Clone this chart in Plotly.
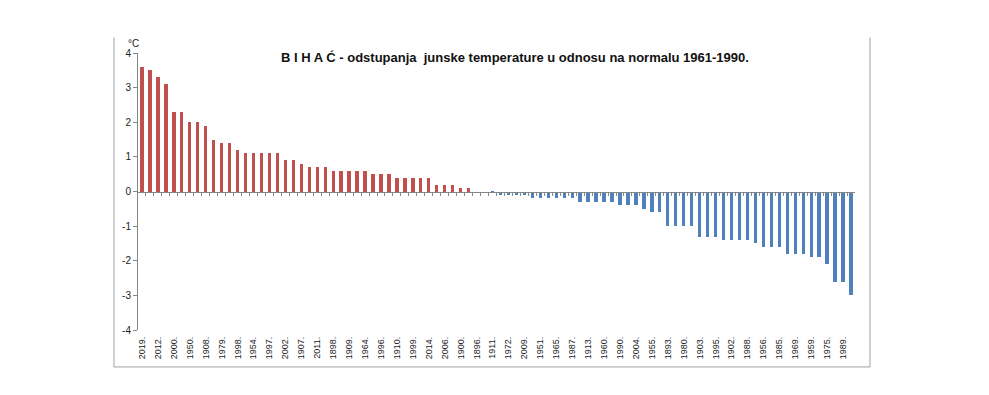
import plotly.graph_objects as go

# Years labelled on the axis (every other bar carries a label in the original)
tick_labels = ["2019.", "2012.", "2000.", "1950.", "1908.", "1979.", "1998.", "1954.", "1997.",
               "2002.", "1907.", "2011.", "1898.", "1909.", "1964.", "1996.", "1910.", "1999.",
               "2014.", "2006.", "1900.", "1896.", "1911.", "1972.", "2009.", "1951.", "1965.",
               "1987.", "1913.", "1960.", "1990.", "2004.", "1955.", "1893.", "1980.", "1903.",
               "1995.", "1902.", "1988.", "1956.", "1985.", "1969.", "1959.", "1975.", "1989."]

# Deviations of June temperature from the 1961-1990 normal (°C), sorted descending
deviations = [3.6, 3.5, 3.3, 3.1, 2.3, 2.3, 2.0, 2.0, 1.9, 1.5,
              1.4, 1.4, 1.2, 1.1, 1.1, 1.1, 1.1, 1.1, 0.9, 0.9,
              0.8, 0.7, 0.7, 0.7, 0.6, 0.6, 0.6, 0.6, 0.6, 0.5,
              0.5, 0.5, 0.4, 0.4, 0.4, 0.4, 0.4, 0.2, 0.2, 0.2,
              0.1, 0.1, 0.0, 0.0, -0.05, -0.1, -0.1, -0.1, -0.1, -0.2,
              -0.2, -0.2, -0.2, -0.2, -0.2, -0.3, -0.3, -0.3, -0.3, -0.3,
              -0.4, -0.4, -0.4, -0.5, -0.6, -0.6, -1.0, -1.0, -1.0, -1.0,
              -1.3, -1.3, -1.3, -1.4, -1.4, -1.4, -1.4, -1.5, -1.6, -1.6,
              -1.6, -1.8, -1.8, -1.8, -1.9, -1.9, -2.1, -2.6, -2.6, -3.0]

y_ticks = [-4, -3, -2, -1, 0, 1, 2, 3, 4]
y_tick_text = ["-4", "-3", "-2", "-1", "0", "1", "2", "3", "4"]

title_text = "B I H A Ć - odstupanja  junske temperature u odnosu na normalu 1961-1990."

RED = "#C0504D"
BLUE = "#4F81BD"

positions = list(range(len(deviations)))
colors = [RED if v > 0 else BLUE for v in deviations]
label_positions = positions[::2][:len(tick_labels)]
boundaries = [p + 0.5 for p in positions[:-1]]

fig = go.Figure()
fig.add_trace(go.Bar(x=positions, y=deviations, marker=dict(color=colors, line=dict(width=0)),
                     width=0.42, hoverinfo="x+y", showlegend=False))
# invisible trace so that the zero-line axis is rendered
fig.add_trace(go.Scatter(x=[positions[0]], y=[0], xaxis="x2", mode="markers",
                         marker=dict(opacity=0), showlegend=False, hoverinfo="skip"))

fig.update_layout(
    width=981, height=387,
    margin=dict(l=130, r=134, t=45, b=65),
    paper_bgcolor="white", plot_bgcolor="white",
    font=dict(family="Liberation Sans, Arial, sans-serif", color="#222"),
    bargap=0,
    xaxis=dict(range=[-0.5, len(deviations) - 0.5], tickmode="array",
               tickvals=label_positions, ticktext=tick_labels, tickangle=-90,
               tickfont=dict(size=9, color="#222"), showline=False, showgrid=False,
               zeroline=False, ticks="", ticklabelstandoff=4),
    xaxis2=dict(overlaying="x", matches="x", anchor="free", position=0.5,
                showline=True, linecolor="#868686", linewidth=1,
                ticks="outside", ticklen=3, tickcolor="#868686",
                tickmode="array", tickvals=boundaries, showticklabels=False,
                showgrid=False, zeroline=False),
    yaxis=dict(range=[-4, 4], tickmode="array", tickvals=y_ticks, ticktext=y_tick_text,
               showline=True, linecolor="#868686", linewidth=1, ticks="outside",
               ticklen=4, tickcolor="#868686", showgrid=False, zeroline=False,
               tickfont=dict(size=10, color="#222")),
)

# outer chart frame (left, bottom, right)
fig.add_shape(type="path", xref="paper", yref="paper",
              path="M -0.0335,1.056 L -0.0335,-0.1334 L 1.0209,-0.1334 L 1.0209,1.056",
              line=dict(color="#A0A0A0", width=1))

fig.add_annotation(text="<b>" + title_text + "</b>", xref="paper", yref="paper",
                   x=0.526, y=0.984, yanchor="middle", showarrow=False,
                   font=dict(size=13, color="#111", family="Liberation Sans, Arial, sans-serif"))
fig.add_annotation(text="°C", xref="paper", yref="paper", x=-0.017, y=1.035,
                   yanchor="middle", showarrow=False, font=dict(size=10, color="#222"))

fig.write_html("out.html")
